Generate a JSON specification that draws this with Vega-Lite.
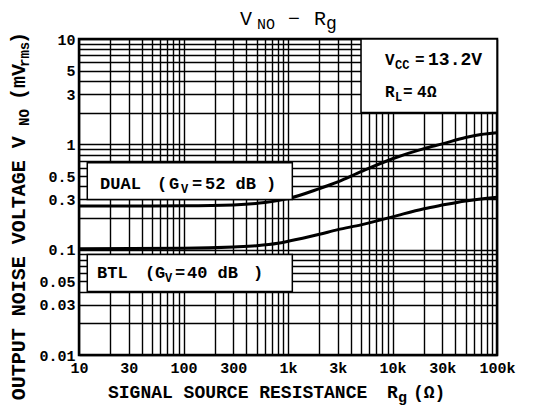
{
  "$schema": "https://vega.github.io/schema/vega-lite/v6.json",
  "width": 418,
  "height": 316,
  "autosize": {"type": "none"},
  "padding": {"left": 79, "top": 39, "right": 36, "bottom": 53},
  "background": "white",
  "config": {"view": {"stroke": "black", "strokeWidth": 2.5}},
  "data": {"values": [{}]},
  "layer": [
    {
      "data": {"values": [
        {"series": "DUAL", "r": 10, "v": 0.26},
        {"series": "DUAL", "r": 30, "v": 0.26},
        {"series": "DUAL", "r": 100, "v": 0.261},
        {"series": "DUAL", "r": 300, "v": 0.266},
        {"series": "DUAL", "r": 600, "v": 0.28},
        {"series": "DUAL", "r": 1000, "v": 0.305},
        {"series": "DUAL", "r": 2000, "v": 0.38},
        {"series": "DUAL", "r": 3000, "v": 0.44},
        {"series": "DUAL", "r": 5000, "v": 0.55},
        {"series": "DUAL", "r": 10000, "v": 0.73},
        {"series": "DUAL", "r": 20000, "v": 0.91},
        {"series": "DUAL", "r": 30000, "v": 1.01},
        {"series": "DUAL", "r": 50000, "v": 1.16},
        {"series": "DUAL", "r": 70000, "v": 1.24},
        {"series": "DUAL", "r": 100000, "v": 1.29},
        {"series": "BTL", "r": 10, "v": 0.102},
        {"series": "BTL", "r": 100, "v": 0.103},
        {"series": "BTL", "r": 300, "v": 0.106},
        {"series": "BTL", "r": 500, "v": 0.109},
        {"series": "BTL", "r": 800, "v": 0.115},
        {"series": "BTL", "r": 1000, "v": 0.12},
        {"series": "BTL", "r": 2000, "v": 0.14},
        {"series": "BTL", "r": 3000, "v": 0.155},
        {"series": "BTL", "r": 5000, "v": 0.172},
        {"series": "BTL", "r": 10000, "v": 0.205},
        {"series": "BTL", "r": 20000, "v": 0.245},
        {"series": "BTL", "r": 30000, "v": 0.265},
        {"series": "BTL", "r": 50000, "v": 0.29},
        {"series": "BTL", "r": 100000, "v": 0.315}
      ]},
      "mark": {"type": "line", "color": "black", "strokeWidth": 3, "interpolate": "monotone"},
      "encoding": {
        "x": {"field": "r", "type": "quantitative", "scale": {"type": "log", "domain": [10, 100000]},
          "axis": {
            "values": [10,20,30,40,50,60,70,80,90,100,200,300,400,500,600,700,800,900,1000,2000,3000,4000,5000,6000,7000,8000,9000,10000,20000,30000,40000,50000,60000,70000,80000,90000,100000],
            "grid": true, "gridColor": "black", "gridWidth": 1.4, "gridOpacity": 1,
            "ticks": false, "domain": false, "title": null,
            "labelOverlap": false, "labelFlush": false,
            "labelExpr": "indexof([10,30,100,300,1000,3000,10000,30000,100000], datum.value) >= 0 ? (datum.value >= 1000 ? (datum.value/1000) + 'k' : '' + datum.value) : ''",
            "labelFont": "Liberation Mono", "labelFontWeight": "bold", "labelFontSize": 15, "labelColor": "black", "labelPadding": 5
          }},
        "y": {"field": "v", "type": "quantitative", "scale": {"type": "log", "domain": [0.01, 10]},
          "axis": {
            "values": [0.01,0.02,0.03,0.04,0.05,0.06,0.07,0.08,0.09,0.1,0.2,0.3,0.4,0.5,0.6,0.7,0.8,0.9,1,2,3,4,5,6,7,8,9,10],
            "grid": true, "gridColor": "black", "gridWidth": 1.4, "gridOpacity": 1,
            "ticks": false, "domain": false, "title": null,
            "labelOverlap": false, "labelFlush": false,
            "labelExpr": "indexof([0.01,0.03,0.05,0.1,0.3,0.5,1,3,5,10], datum.value) >= 0 ? '' + datum.value : ''",
            "labelFont": "Liberation Mono", "labelFontWeight": "bold", "labelFontSize": 15, "labelColor": "black", "labelPadding": 4
          }},
        "detail": {"field": "series"}
      }
    },
    {"mark": {"type": "rect", "fill": "white", "stroke": "black", "strokeWidth": 1.5},
     "encoding": {
       "x": {"datum": 5000, "type": "quantitative", "scale": {"type": "log", "domain": [10, 100000]}},
       "x2": {"datum": 100000},
       "y": {"datum": 2, "type": "quantitative", "scale": {"type": "log", "domain": [0.01, 10]}},
       "y2": {"datum": 10}}},
    {"mark": {"type": "rect", "fill": "white", "stroke": "black", "strokeWidth": 1.5},
     "encoding": {
       "x": {"datum": 12, "type": "quantitative", "scale": {"type": "log", "domain": [10, 100000]}},
       "x2": {"datum": 1100},
       "y": {"datum": 0.3, "type": "quantitative", "scale": {"type": "log", "domain": [0.01, 10]}},
       "y2": {"datum": 0.67}}},
    {"mark": {"type": "rect", "fill": "white", "stroke": "black", "strokeWidth": 1.5},
     "encoding": {
       "x": {"datum": 12, "type": "quantitative", "scale": {"type": "log", "domain": [10, 100000]}},
       "x2": {"datum": 1100},
       "y": {"datum": 0.04, "type": "quantitative", "scale": {"type": "log", "domain": [0.01, 10]}},
       "y2": {"datum": 0.09}}},

    {"mark": {"type": "text", "text": "V", "font": "Liberation Mono", "fontSize": 20, "align": "left", "baseline": "alphabetic", "color": "black"},
     "encoding": {"x": {"datum": 347.5, "type": "quantitative", "scale": {"type": "log", "domain": [10, 100000]}}, "y": {"datum": 13.57, "type": "quantitative", "scale": {"type": "log", "domain": [0.01, 10]}}}},
    {"mark": {"type": "text", "text": "NO", "font": "Liberation Mono", "fontSize": 15, "align": "left", "baseline": "alphabetic", "color": "black"},
     "encoding": {"x": {"datum": 505, "type": "quantitative", "scale": {"type": "log", "domain": [10, 100000]}}, "y": {"datum": 12.44, "type": "quantitative", "scale": {"type": "log", "domain": [0.01, 10]}}}},
    {"mark": {"type": "text", "text": "−", "font": "Liberation Mono", "fontSize": 20, "align": "left", "baseline": "alphabetic", "color": "black"},
     "encoding": {"x": {"datum": 1000, "type": "quantitative", "scale": {"type": "log", "domain": [10, 100000]}}, "y": {"datum": 13.57, "type": "quantitative", "scale": {"type": "log", "domain": [0.01, 10]}}}},
    {"mark": {"type": "text", "text": "R", "font": "Liberation Mono", "fontSize": 20, "align": "left", "baseline": "alphabetic", "color": "black"},
     "encoding": {"x": {"datum": 1774, "type": "quantitative", "scale": {"type": "log", "domain": [10, 100000]}}, "y": {"datum": 13.57, "type": "quantitative", "scale": {"type": "log", "domain": [0.01, 10]}}}},
    {"mark": {"type": "text", "text": "g", "font": "Liberation Mono", "fontSize": 18, "align": "left", "baseline": "alphabetic", "color": "black"},
     "encoding": {"x": {"datum": 2311, "type": "quantitative", "scale": {"type": "log", "domain": [10, 100000]}}, "y": {"datum": 12.44, "type": "quantitative", "scale": {"type": "log", "domain": [0.01, 10]}}}},

    {"mark": {"type": "text", "text": "V", "font": "Liberation Mono", "fontWeight": "bold", "fontSize": 16, "align": "left", "baseline": "alphabetic", "color": "black"},
     "encoding": {"x": {"datum": 8475, "type": "quantitative", "scale": {"type": "log", "domain": [10, 100000]}}, "y": {"datum": 5.67, "type": "quantitative", "scale": {"type": "log", "domain": [0.01, 10]}}}},
    {"mark": {"type": "text", "text": "CC", "font": "Liberation Mono", "fontWeight": "bold", "fontSize": 12, "align": "left", "baseline": "alphabetic", "color": "black"},
     "encoding": {"x": {"datum": 10570, "type": "quantitative", "scale": {"type": "log", "domain": [10, 100000]}}, "y": {"datum": 5.2, "type": "quantitative", "scale": {"type": "log", "domain": [0.01, 10]}}}},
    {"mark": {"type": "text", "text": "=", "font": "Liberation Mono", "fontWeight": "bold", "fontSize": 16, "align": "left", "baseline": "alphabetic", "color": "black"},
     "encoding": {"x": {"datum": 16400, "type": "quantitative", "scale": {"type": "log", "domain": [10, 100000]}}, "y": {"datum": 5.67, "type": "quantitative", "scale": {"type": "log", "domain": [0.01, 10]}}}},
    {"mark": {"type": "text", "text": "13.2V", "font": "Liberation Mono", "fontWeight": "bold", "fontSize": 18, "align": "left", "baseline": "alphabetic", "color": "black"},
     "encoding": {"x": {"datum": 21880, "type": "quantitative", "scale": {"type": "log", "domain": [10, 100000]}}, "y": {"datum": 5.67, "type": "quantitative", "scale": {"type": "log", "domain": [0.01, 10]}}}},
    {"mark": {"type": "text", "text": "R", "font": "Liberation Mono", "fontWeight": "bold", "fontSize": 16, "align": "left", "baseline": "alphabetic", "color": "black"},
     "encoding": {"x": {"datum": 8475, "type": "quantitative", "scale": {"type": "log", "domain": [10, 100000]}}, "y": {"datum": 2.82, "type": "quantitative", "scale": {"type": "log", "domain": [0.01, 10]}}}},
    {"mark": {"type": "text", "text": "L", "font": "Liberation Mono", "fontWeight": "bold", "fontSize": 12, "align": "left", "baseline": "alphabetic", "color": "black"},
     "encoding": {"x": {"datum": 10570, "type": "quantitative", "scale": {"type": "log", "domain": [10, 100000]}}, "y": {"datum": 2.58, "type": "quantitative", "scale": {"type": "log", "domain": [0.01, 10]}}}},
    {"mark": {"type": "text", "text": "=", "font": "Liberation Mono", "fontWeight": "bold", "fontSize": 16, "align": "left", "baseline": "alphabetic", "color": "black"},
     "encoding": {"x": {"datum": 12590, "type": "quantitative", "scale": {"type": "log", "domain": [10, 100000]}}, "y": {"datum": 2.82, "type": "quantitative", "scale": {"type": "log", "domain": [0.01, 10]}}}},
    {"mark": {"type": "text", "text": "4", "font": "Liberation Mono", "fontWeight": "bold", "fontSize": 16, "align": "left", "baseline": "alphabetic", "color": "black"},
     "encoding": {"x": {"datum": 17140, "type": "quantitative", "scale": {"type": "log", "domain": [10, 100000]}}, "y": {"datum": 2.82, "type": "quantitative", "scale": {"type": "log", "domain": [0.01, 10]}}}},
    {"mark": {"type": "text", "text": "Ω", "font": "Liberation Mono", "fontWeight": "bold", "fontSize": 16, "align": "left", "baseline": "alphabetic", "color": "black"},
     "encoding": {"x": {"datum": 21380, "type": "quantitative", "scale": {"type": "log", "domain": [10, 100000]}}, "y": {"datum": 2.82, "type": "quantitative", "scale": {"type": "log", "domain": [0.01, 10]}}}},

    {"mark": {"type": "text", "text": "DUAL", "font": "Liberation Mono", "fontWeight": "bold", "fontSize": 17, "align": "left", "baseline": "alphabetic", "color": "black"},
     "encoding": {"x": {"datum": 15.9, "type": "quantitative", "scale": {"type": "log", "domain": [10, 100000]}}, "y": {"datum": 0.379, "type": "quantitative", "scale": {"type": "log", "domain": [0.01, 10]}}}},
    {"mark": {"type": "text", "text": "(", "font": "Liberation Mono", "fontWeight": "bold", "fontSize": 17, "align": "left", "baseline": "alphabetic", "color": "black"},
     "encoding": {"x": {"datum": 55.8, "type": "quantitative", "scale": {"type": "log", "domain": [10, 100000]}}, "y": {"datum": 0.379, "type": "quantitative", "scale": {"type": "log", "domain": [0.01, 10]}}}},
    {"mark": {"type": "text", "text": "G", "font": "Liberation Mono", "fontWeight": "bold", "fontSize": 17, "align": "left", "baseline": "alphabetic", "color": "black"},
     "encoding": {"x": {"datum": 72.7, "type": "quantitative", "scale": {"type": "log", "domain": [10, 100000]}}, "y": {"datum": 0.379, "type": "quantitative", "scale": {"type": "log", "domain": [0.01, 10]}}}},
    {"mark": {"type": "text", "text": "V", "font": "Liberation Mono", "fontWeight": "bold", "fontSize": 12, "align": "left", "baseline": "alphabetic", "color": "black"},
     "encoding": {"x": {"datum": 94.6, "type": "quantitative", "scale": {"type": "log", "domain": [10, 100000]}}, "y": {"datum": 0.347, "type": "quantitative", "scale": {"type": "log", "domain": [0.01, 10]}}}},
    {"mark": {"type": "text", "text": "=", "font": "Liberation Mono", "fontWeight": "bold", "fontSize": 17, "align": "left", "baseline": "alphabetic", "color": "black"},
     "encoding": {"x": {"datum": 120.6, "type": "quantitative", "scale": {"type": "log", "domain": [10, 100000]}}, "y": {"datum": 0.379, "type": "quantitative", "scale": {"type": "log", "domain": [0.01, 10]}}}},
    {"mark": {"type": "text", "text": "52 dB", "font": "Liberation Mono", "fontWeight": "bold", "fontSize": 17, "align": "left", "baseline": "alphabetic", "color": "black"},
     "encoding": {"x": {"datum": 160.6, "type": "quantitative", "scale": {"type": "log", "domain": [10, 100000]}}, "y": {"datum": 0.379, "type": "quantitative", "scale": {"type": "log", "domain": [0.01, 10]}}}},
    {"mark": {"type": "text", "text": ")", "font": "Liberation Mono", "fontWeight": "bold", "fontSize": 17, "align": "left", "baseline": "alphabetic", "color": "black"},
     "encoding": {"x": {"datum": 615.6, "type": "quantitative", "scale": {"type": "log", "domain": [10, 100000]}}, "y": {"datum": 0.379, "type": "quantitative", "scale": {"type": "log", "domain": [0.01, 10]}}}},

    {"mark": {"type": "text", "text": "BTL", "font": "Liberation Mono", "fontWeight": "bold", "fontSize": 17, "align": "left", "baseline": "alphabetic", "color": "black"},
     "encoding": {"x": {"datum": 14.9, "type": "quantitative", "scale": {"type": "log", "domain": [10, 100000]}}, "y": {"datum": 0.0543, "type": "quantitative", "scale": {"type": "log", "domain": [0.01, 10]}}}},
    {"mark": {"type": "text", "text": "(", "font": "Liberation Mono", "fontWeight": "bold", "fontSize": 17, "align": "left", "baseline": "alphabetic", "color": "black"},
     "encoding": {"x": {"datum": 42.8, "type": "quantitative", "scale": {"type": "log", "domain": [10, 100000]}}, "y": {"datum": 0.0543, "type": "quantitative", "scale": {"type": "log", "domain": [0.01, 10]}}}},
    {"mark": {"type": "text", "text": "G", "font": "Liberation Mono", "fontWeight": "bold", "fontSize": 17, "align": "left", "baseline": "alphabetic", "color": "black"},
     "encoding": {"x": {"datum": 53.4, "type": "quantitative", "scale": {"type": "log", "domain": [10, 100000]}}, "y": {"datum": 0.0543, "type": "quantitative", "scale": {"type": "log", "domain": [0.01, 10]}}}},
    {"mark": {"type": "text", "text": "V", "font": "Liberation Mono", "fontWeight": "bold", "fontSize": 12, "align": "left", "baseline": "alphabetic", "color": "black"},
     "encoding": {"x": {"datum": 66.5, "type": "quantitative", "scale": {"type": "log", "domain": [10, 100000]}}, "y": {"datum": 0.0498, "type": "quantitative", "scale": {"type": "log", "domain": [0.01, 10]}}}},
    {"mark": {"type": "text", "text": "=", "font": "Liberation Mono", "fontWeight": "bold", "fontSize": 17, "align": "left", "baseline": "alphabetic", "color": "black"},
     "encoding": {"x": {"datum": 82.9, "type": "quantitative", "scale": {"type": "log", "domain": [10, 100000]}}, "y": {"datum": 0.0543, "type": "quantitative", "scale": {"type": "log", "domain": [0.01, 10]}}}},
    {"mark": {"type": "text", "text": "40 dB", "font": "Liberation Mono", "fontWeight": "bold", "fontSize": 17, "align": "left", "baseline": "alphabetic", "color": "black"},
     "encoding": {"x": {"datum": 108, "type": "quantitative", "scale": {"type": "log", "domain": [10, 100000]}}, "y": {"datum": 0.0543, "type": "quantitative", "scale": {"type": "log", "domain": [0.01, 10]}}}},
    {"mark": {"type": "text", "text": ")", "font": "Liberation Mono", "fontWeight": "bold", "fontSize": 17, "align": "left", "baseline": "alphabetic", "color": "black"},
     "encoding": {"x": {"datum": 462.7, "type": "quantitative", "scale": {"type": "log", "domain": [10, 100000]}}, "y": {"datum": 0.0543, "type": "quantitative", "scale": {"type": "log", "domain": [0.01, 10]}}}},

    {"mark": {"type": "text", "text": "SIGNAL  SOURCE  RESISTANCE", "font": "Liberation Mono", "fontWeight": "bold", "fontSize": 18, "align": "left", "baseline": "alphabetic", "color": "black"},
     "encoding": {"x": {"datum": 18.95, "type": "quantitative", "scale": {"type": "log", "domain": [10, 100000]}}, "y": {"datum": 0.00387, "type": "quantitative", "scale": {"type": "log", "domain": [0.01, 10]}}}},
    {"mark": {"type": "text", "text": "R", "font": "Liberation Mono", "fontWeight": "bold", "fontSize": 18, "align": "left", "baseline": "alphabetic", "color": "black"},
     "encoding": {"x": {"datum": 8855, "type": "quantitative", "scale": {"type": "log", "domain": [10, 100000]}}, "y": {"datum": 0.00387, "type": "quantitative", "scale": {"type": "log", "domain": [0.01, 10]}}}},
    {"mark": {"type": "text", "text": "g", "font": "Liberation Mono", "fontWeight": "bold", "fontSize": 15, "align": "left", "baseline": "alphabetic", "color": "black"},
     "encoding": {"x": {"datum": 11290, "type": "quantitative", "scale": {"type": "log", "domain": [10, 100000]}}, "y": {"datum": 0.00355, "type": "quantitative", "scale": {"type": "log", "domain": [0.01, 10]}}}},
    {"mark": {"type": "text", "text": "(Ω)", "font": "Liberation Mono", "fontWeight": "bold", "fontSize": 18, "align": "left", "baseline": "alphabetic", "color": "black"},
     "encoding": {"x": {"datum": 15710, "type": "quantitative", "scale": {"type": "log", "domain": [10, 100000]}}, "y": {"datum": 0.00387, "type": "quantitative", "scale": {"type": "log", "domain": [0.01, 10]}}}},

    {"mark": {"type": "text", "text": "OUTPUT  NOISE  VOLTAGE  V", "angle": 270, "font": "Liberation Mono", "fontWeight": "bold", "fontSize": 20, "align": "left", "baseline": "alphabetic", "color": "black"},
     "encoding": {"x": {"datum": 3.04, "type": "quantitative", "scale": {"type": "log", "domain": [10, 100000]}}, "y": {"datum": 0.00371, "type": "quantitative", "scale": {"type": "log", "domain": [0.01, 10]}}}},
    {"mark": {"type": "text", "text": "NO", "angle": 270, "font": "Liberation Mono", "fontWeight": "bold", "fontSize": 14, "align": "left", "baseline": "alphabetic", "color": "black"},
     "encoding": {"x": {"datum": 3.32, "type": "quantitative", "scale": {"type": "log", "domain": [10, 100000]}}, "y": {"datum": 1.497, "type": "quantitative", "scale": {"type": "log", "domain": [0.01, 10]}}}},
    {"mark": {"type": "text", "text": "(mV", "angle": 270, "font": "Liberation Mono", "fontWeight": "bold", "fontSize": 20, "align": "left", "baseline": "alphabetic", "color": "black"},
     "encoding": {"x": {"datum": 3.04, "type": "quantitative", "scale": {"type": "log", "domain": [10, 100000]}}, "y": {"datum": 2.64, "type": "quantitative", "scale": {"type": "log", "domain": [0.01, 10]}}}},
    {"mark": {"type": "text", "text": "rms", "angle": 270, "font": "Liberation Mono", "fontWeight": "bold", "fontSize": 14, "align": "left", "baseline": "alphabetic", "color": "black"},
     "encoding": {"x": {"datum": 3.32, "type": "quantitative", "scale": {"type": "log", "domain": [10, 100000]}}, "y": {"datum": 5.43, "type": "quantitative", "scale": {"type": "log", "domain": [0.01, 10]}}}},
    {"mark": {"type": "text", "text": ")", "angle": 270, "font": "Liberation Mono", "fontWeight": "bold", "fontSize": 20, "align": "left", "baseline": "alphabetic", "color": "black"},
     "encoding": {"x": {"datum": 3.04, "type": "quantitative", "scale": {"type": "log", "domain": [10, 100000]}}, "y": {"datum": 8.97, "type": "quantitative", "scale": {"type": "log", "domain": [0.01, 10]}}}}
  ]
}
